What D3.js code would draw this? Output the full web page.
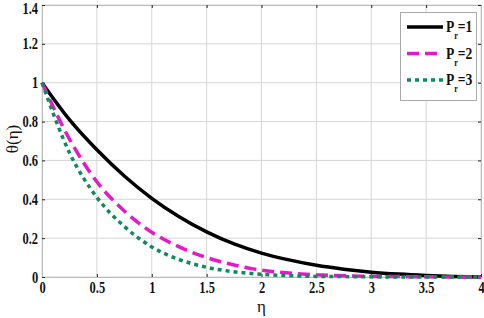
<!DOCTYPE html>
<html>
<meta charset="utf-8">
<style>
body { margin: 0; background: #fff; }
.grid line { stroke: #d6d6d6; stroke-width: 1; }
.axis path { stroke: #bbb; }
.axis line { stroke: #222; }
.axis text { font: bold 16px "Liberation Serif", serif; fill: #111; }
.lbl { font: 17px "Liberation Serif", serif; fill: #111; }
.legtext { font: bold 17px "Liberation Serif", serif; fill: #111; }
</style>
<body>
<script src="https://d3js.org/d3.v7.min.js"></script>
<script>
// data
var eta = [0, 0.25, 0.5, 0.75, 1, 1.25, 1.5, 1.75, 2, 2.25, 2.5, 2.75, 3, 3.25, 3.5, 3.75, 4];
var pr1 = [1, 0.81, 0.655, 0.52, 0.405, 0.31, 0.232, 0.17, 0.123, 0.088, 0.06, 0.04, 0.025, 0.015, 0.008, 0.003, 0];
var pr2 = [1, 0.71, 0.49, 0.34, 0.23, 0.155, 0.10, 0.062, 0.035, 0.02, 0.011, 0.006, 0.003, 0.002, 0.001, 0, 0];
var pr3 = [1, 0.64, 0.41, 0.26, 0.155, 0.09, 0.05, 0.027, 0.014, 0.007, 0.003, 0.002, 0.001, 0, 0, 0, 0];
var names = ["1", "2", "3"];
var colors = ["#000000", "#e619c8", "#0f8a5c"];
var xTicks = [0, 0.5, 1, 1.5, 2, 2.5, 3, 3.5, 4];
var yTicks = [0, 0.2, 0.4, 0.6, 0.8, 1, 1.2, 1.4];

var W = 484, H = 318;
var x = d3.scaleLinear().domain([0, 4]).range([42, 481]);
var y = d3.scaleLinear().domain([0, 1.4]).range([277, 5]);

var svg = d3.select("body").append("svg")
    .attr("width", W).attr("height", H);

// grid
var grid = svg.append("g").attr("class", "grid");
grid.selectAll(".gx").data(xTicks).enter().append("line")
    .attr("x1", function(d) { return x(d); }).attr("x2", function(d) { return x(d); })
    .attr("y1", y(0)).attr("y2", y(1.4));
grid.selectAll(".gy").data(yTicks).enter().append("line")
    .attr("y1", function(d) { return y(d); }).attr("y2", function(d) { return y(d); })
    .attr("x1", x(0)).attr("x2", x(4));

// frame with mirrored ticks
svg.append("g").attr("class", "axis")
    .attr("transform", "translate(0," + y(1.4) + ")")
    .call(d3.axisBottom(x).tickValues(xTicks).tickSize(3).tickFormat(""));
svg.append("g").attr("class", "axis")
    .attr("transform", "translate(" + x(4) + ",0)")
    .call(d3.axisLeft(y).tickValues(yTicks).tickSize(3).tickFormat(""));
svg.append("g").attr("class", "axis")
    .attr("transform", "translate(0," + y(0) + ")")
    .call(d3.axisTop(x).tickValues(xTicks).tickSize(3).tickFormat(""));
svg.append("g").attr("class", "axis")
    .attr("transform", "translate(" + x(0) + ",0)")
    .call(d3.axisRight(y).tickValues(yTicks).tickSize(3).tickFormat(""));

// tick labels
svg.append("g").attr("class", "axis")
    .attr("transform", "translate(0," + y(0) + ")")
    .call(d3.axisBottom(x).tickValues(xTicks).tickSize(0).tickPadding(5).tickFormat(d3.format("")))
    .call(function(g) { g.select(".domain").remove(); })
    .selectAll("text").attr("transform", "scale(0.78,1)");
svg.append("g").attr("class", "axis")
    .attr("transform", "translate(" + x(0) + ",0)")
    .call(d3.axisLeft(y).tickValues(yTicks).tickSize(0).tickPadding(5).tickFormat(d3.format("")))
    .call(function(g) { g.select(".domain").remove(); })
    .selectAll("text").attr("transform", "scale(0.78,1)")
    .attr("dy", function(d) { return d === 1.4 ? "0.55em" : "0.32em"; });

// axis labels
svg.append("text").attr("class", "lbl")
    .attr("x", x(2)).attr("y", 312).attr("text-anchor", "middle").text("η");
svg.append("text").attr("class", "lbl")
    .attr("transform", "translate(18,139) rotate(-90)")
    .attr("text-anchor", "middle").text("θ(η)");

// curves
var series = [pr1, pr2, pr3];
var dashes = [null, "12,6", "4,4"];
var line = d3.line()
    .x(function(d, i) { return x(eta[i]); })
    .y(function(d) { return y(d); })
    .curve(d3.curveMonotoneX);
series.forEach(function(s, k) {
  svg.append("path").datum(s)
    .attr("d", line)
    .attr("fill", "none")
    .attr("stroke", colors[k])
    .attr("stroke-width", 3.5)
    .attr("stroke-dasharray", dashes[k]);
});

// legend
var leg = svg.append("g");
leg.append("rect").attr("x", 400.5).attr("y", 12.5).attr("width", 76).attr("height", 88)
    .attr("fill", "#fff").attr("stroke", "#aaa");
names.forEach(function(n, k) {
  var ly = 27 + k * 26.5;
  leg.append("line").attr("x1", 407).attr("x2", 443).attr("y1", ly).attr("y2", ly)
    .attr("stroke", colors[k]).attr("stroke-width", 3.5)
    .attr("stroke-dasharray", dashes[k]);
  var t = leg.append("text").attr("class", "legtext")
    .attr("transform", "translate(446," + (ly + 5) + ") scale(0.8,1)");
  t.append("tspan").text("P");
  t.append("tspan").attr("font-size", "10px").attr("dy", 7).text("r");
  t.append("tspan").attr("dy", -7).text("=" + n);
});
</script>
</body>
</html>
